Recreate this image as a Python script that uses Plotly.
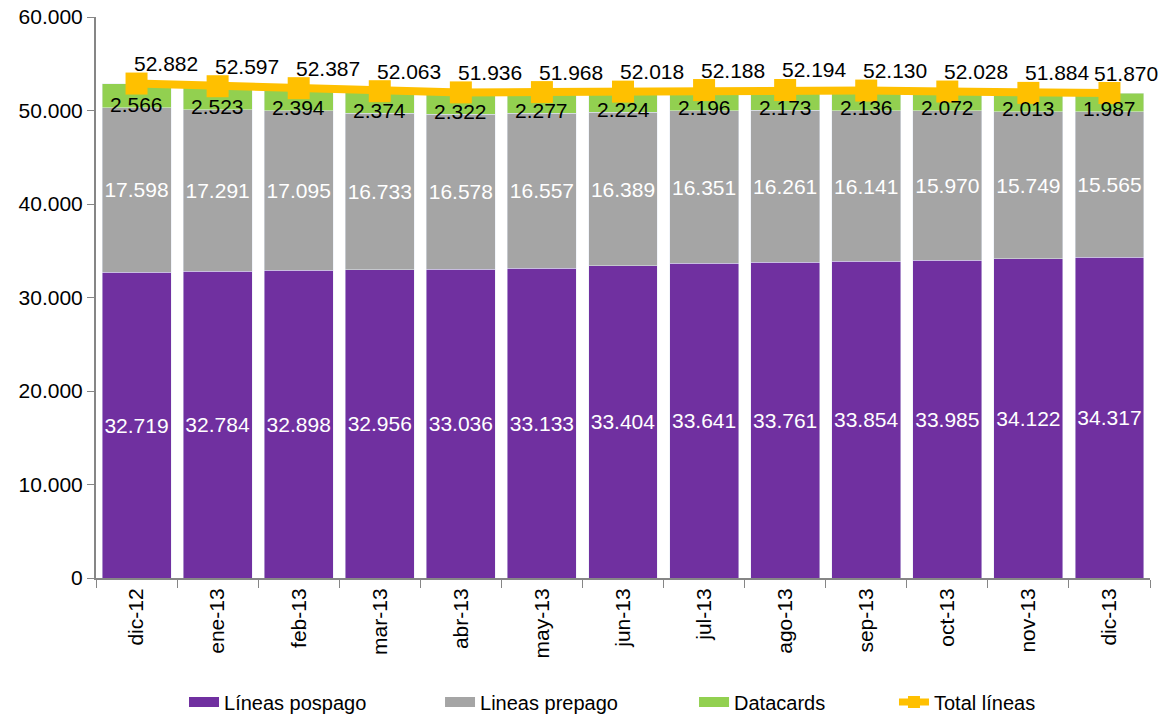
import plotly.graph_objects as go

categories = ["dic-12", "ene-13", "feb-13", "mar-13", "abr-13", "may-13", "jun-13",
              "jul-13", "ago-13", "sep-13", "oct-13", "nov-13", "dic-13"]
pospago = [32719, 32784, 32898, 32956, 33036, 33133, 33404, 33641, 33761, 33854, 33985, 34122, 34317]
prepago = [17598, 17291, 17095, 16733, 16578, 16557, 16389, 16351, 16261, 16141, 15970, 15749, 15565]
datacards = [2566, 2523, 2394, 2374, 2322, 2277, 2224, 2196, 2173, 2136, 2072, 2013, 1987]
total = [52882, 52597, 52387, 52063, 51936, 51968, 52018, 52188, 52194, 52130, 52028, 51884, 51870]

names = ["Líneas pospago", "Lineas prepago", "Datacards", "Total líneas"]
colors = ["#7030A0", "#A5A5A5", "#92D050", "#FFC000"]


def fmt(v):
    return f"{v:,}".replace(",", ".")


FONT = "Liberation Sans, Arial, sans-serif"
FS = 21
fig = go.Figure()
fig.add_bar(x=categories, y=pospago, name=names[0], marker_color=colors[0], showlegend=False,
            text=[fmt(v) for v in pospago], textposition="inside", insidetextanchor="middle",
            textangle=0, textfont=dict(color="white", size=FS, family=FONT),
            constraintext="none")
fig.add_bar(x=categories, y=prepago, name=names[1], marker_color=colors[1], showlegend=False,
            text=[fmt(v) for v in prepago], textposition="inside", insidetextanchor="middle",
            textangle=0, textfont=dict(color="white", size=FS, family=FONT),
            constraintext="none")
fig.add_bar(x=categories, y=datacards, name=names[2], marker_color=colors[2], showlegend=False,
            textposition="none")
fig.add_scatter(x=categories, y=total, name=names[3], mode="lines+markers", showlegend=False,
                line=dict(color=colors[3], width=8),
                marker=dict(symbol="square", size=22, color=colors[3]))

# legend entries (wide swatches as in the original), each in its own legend box
legend_ids = ["legend", "legend2", "legend3", "legend4"]
for i, (n, c) in enumerate(zip(names, colors)):
    if i < 3:
        fig.add_scatter(x=[None], y=[None], name=n, mode="lines", legend=legend_ids[i],
                        line=dict(color=c, width=11))
    else:
        fig.add_scatter(x=[None], y=[None], name=n, mode="lines+markers", legend=legend_ids[i],
                        line=dict(color=c, width=7),
                        marker=dict(symbol="square", size=12, color=c))

for c, a, b, d in zip(categories, pospago, prepago, datacards):
    fig.add_annotation(x=c, y=a + b, text=fmt(d), showarrow=False, yanchor="middle",
                       yshift=3, font=dict(color="black", size=FS, family=FONT))
for i, (c, t) in enumerate(zip(categories, total)):
    fig.add_annotation(x=c, y=t, text=fmt(t), showarrow=False, yanchor="middle",
                       xshift=17 if i == len(total) - 1 else 29, yshift=20,
                       font=dict(color="black", size=FS, family=FONT))

legend_x = [0.0835, 0.3264, 0.5674, 0.7571]
leg_common = dict(orientation="h", y=-0.221, yanchor="middle", xanchor="left",
                  font=dict(size=FS - 1, family=FONT), bgcolor="rgba(0,0,0,0)")
fig.update_layout(
    width=1174, height=718,
    barmode="stack", bargap=0.15,
    separators=",.",
    paper_bgcolor="white", plot_bgcolor="white",
    margin=dict(l=96, r=24, t=17, b=140, autoexpand=False),
    font=dict(family=FONT, size=FS, color="black"),
    showlegend=True,
    legend=dict(x=legend_x[0], **leg_common),
    legend2=dict(x=legend_x[1], **leg_common),
    legend3=dict(x=legend_x[2], **leg_common),
    legend4=dict(x=legend_x[3], **leg_common),
)
fig.update_yaxes(range=[0, 60000], dtick=10000, tickformat=",d", showgrid=False,
                 showline=True, linecolor="#868686", linewidth=2, ticks="outside",
                 ticklen=7, tickcolor="#868686", tickfont=dict(size=FS), zeroline=False,
                 automargin=False)
fig.update_xaxes(range=[-0.5, 12.5], showgrid=False, showline=True, linecolor="#868686",
                 linewidth=2, ticks="outside", tickson="boundaries", ticklen=8,
                 tickcolor="#868686", tickangle=-90, tickfont=dict(size=FS),
                 automargin=False)

fig.write_html("out.html", config={"displayModeBar": False},
               post_script="document.body.style.margin='0';")
